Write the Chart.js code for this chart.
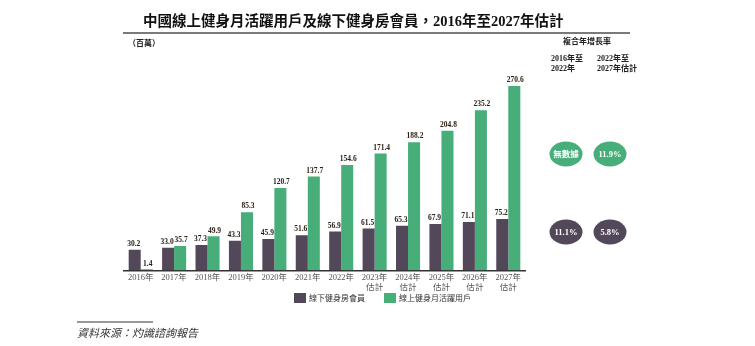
<!DOCTYPE html>
<html>
<head>
<meta charset="utf-8">
<script src="https://cdn.jsdelivr.net/npm/chart.js@4"></script>
<style>
  html, body { margin: 0; padding: 0; background: #fff; }
  #wrap { width: 755px; height: 346px; position: relative; }
</style>
</head>
<body>
<div id="wrap"><canvas id="fitnessChart" width="755" height="346"></canvas></div>
<script>
// Years on the x axis (estimated years get a second line)
const years = [
  '2016年', '2017年', '2018年', '2019年', '2020年', '2021年', '2022年',
  ['2023年', '估計'], ['2024年', '估計'], ['2025年', '估計'], ['2026年', '估計'], ['2027年', '估計']
];
// Offline gym members (millions)
const offlineMembers = [30.2, 33.0, 37.3, 43.3, 45.9, 51.6, 56.9, 61.5, 65.3, 67.9, 71.1, 75.2];
// Online fitness monthly active users (millions)
const onlineMau = [1.4, 35.7, 49.9, 85.3, 120.7, 137.7, 154.6, 171.4, 188.2, 204.8, 235.2, 270.6];
// CAGR bubbles: [2016-2022, 2022-2027E]
const cagrOnline = ['無數據', '11.9%'];
const cagrOffline = ['11.1%', '5.8%'];

const DARK = '#53485a';
const GREEN = '#47ad79';
const SERIF = '"Liberation Serif", "Noto Sans CJK TC", serif';

// Draws value labels, title, legend, CAGR bubbles and source note
const decorations = {
  id: 'decorations',
  afterDatasetsDraw(chart) {
    const ctx = chart.ctx;
    ctx.save();

    // value labels above bars (nudged apart so neighbours don't touch)
    ctx.font = 'bold 7.5px ' + SERIF;
    ctx.fillStyle = '#2b2118';
    ctx.textAlign = 'center';
    ctx.textBaseline = 'bottom';
    chart.data.datasets.forEach((ds, i) => {
      const nudge = i === 0 ? -1 : 1;
      chart.getDatasetMeta(i).data.forEach((bar, j) => {
        ctx.fillText(ds.data[j].toFixed(1), bar.x + nudge, bar.y - 2);
      });
    });

    // title + rule
    ctx.fillStyle = '#111';
    ctx.font = 'bold 14.5px ' + SERIF;
    ctx.textAlign = 'left';
    ctx.textBaseline = 'middle';
    ctx.fillText('中國線上健身月活躍用戶及線下健身房會員，2016年至2027年估計', 143, 22);
    ctx.strokeStyle = '#7a7a7a';
    ctx.lineWidth = 2;
    ctx.beginPath();
    ctx.moveTo(123, 33);
    ctx.lineTo(630, 33);
    ctx.stroke();

    ctx.font = 'bold 8px ' + SERIF;
    ctx.fillStyle = '#222';
    ctx.fillText('（百萬）', 128, 44);

    // CAGR header
    ctx.textAlign = 'center';
    ctx.fillText('複合年增長率', 587, 42);
    ctx.textAlign = 'left';
    ctx.fillText('2016年至', 551, 59);
    ctx.fillText('2022年', 551, 69);
    ctx.fillText('2022年至', 597, 59);
    ctx.fillText('2027年估計', 597, 69);

    // CAGR bubbles
    const bubble = (cx, cy, color, text) => {
      ctx.fillStyle = color;
      ctx.beginPath();
      ctx.ellipse(cx, cy, 16.5, 12.5, 0, 0, Math.PI * 2);
      ctx.fill();
      ctx.fillStyle = '#fff';
      ctx.textAlign = 'center';
      ctx.font = 'bold 8.5px ' + SERIF;
      ctx.fillText(text, cx, cy + 0.5);
    };
    bubble(566, 154, GREEN, cagrOnline[0]);
    bubble(610, 154, GREEN, cagrOnline[1]);
    bubble(566, 232, DARK, cagrOffline[0]);
    bubble(610, 232, DARK, cagrOffline[1]);

    // legend
    ctx.textAlign = 'left';
    ctx.font = '8px ' + SERIF;
    const legendItems = [[294, DARK, chart.data.datasets[0].label], [384, GREEN, chart.data.datasets[1].label]];
    legendItems.forEach(([x, color, label]) => {
      ctx.fillStyle = color;
      ctx.fillRect(x, 293, 12, 10);
      ctx.fillStyle = '#333';
      ctx.fillText(label, x + 15, 298.5);
    });

    // source note
    ctx.strokeStyle = '#777';
    ctx.lineWidth = 1.5;
    ctx.beginPath();
    ctx.moveTo(77, 322);
    ctx.lineTo(153, 322);
    ctx.stroke();
    ctx.fillStyle = '#333';
    ctx.font = 'italic 11px ' + SERIF;
    ctx.fillText('資料來源：灼識諮詢報告', 77, 334);

    ctx.restore();
  }
};

new Chart(document.getElementById('fitnessChart'), {
  type: 'bar',
  data: {
    labels: years,
    datasets: [
      { label: '線下健身房會員', data: offlineMembers, backgroundColor: DARK },
      { label: '線上健身月活躍用戶', data: onlineMau, backgroundColor: GREEN }
    ]
  },
  options: {
    responsive: false,
    animation: false,
    devicePixelRatio: 1,
    layout: { padding: { left: 124, right: 230, top: 66, bottom: 51 } },
    datasets: { bar: { categoryPercentage: 0.72, barPercentage: 1 } },
    plugins: { legend: { display: false }, tooltip: { enabled: false } },
    scales: {
      x: {
        grid: { display: false, drawTicks: false, tickLength: 0 },
        border: { display: true, color: '#333', width: 1.5 },
        ticks: {
          color: '#555',
          font: { family: SERIF, size: 8.5, lineHeight: 1.1 },
          padding: 3,
          maxRotation: 0,
          autoSkip: false
        }
      },
      y: {
        display: false,
        min: 0,
        max: 300
      }
    }
  },
  plugins: [decorations]
});
</script>
</body>
</html>
